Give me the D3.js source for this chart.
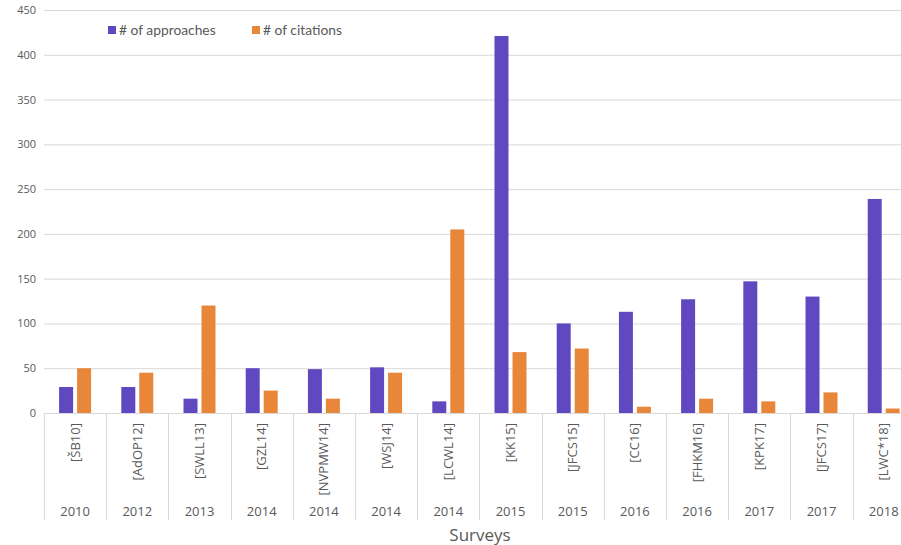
<!DOCTYPE html>
<html>
<head>
<meta charset="utf-8">
<script src="https://cdn.jsdelivr.net/npm/d3@7"></script>
<style>
    body { margin: 0; background: #ffffff; }
    svg { display: block; font-family: "Open Sans", "Noto Sans", sans-serif; }
</style>
</head>
<body>
<div id="chart"></div>
<script>
const surveys = ["[ŠB10]", "[AdOP12]", "[SWLL13]", "[GZL14]", "[NVPMW14]", "[WSJ14]", "[LCWL14]",
    "[KK15]", "[JFCS15]", "[CC16]", "[FHKM16]", "[KPK17]", "[JFCS17]", "[LWC*18]"];
const years = ["2010", "2012", "2013", "2014", "2014", "2014", "2014",
    "2015", "2015", "2016", "2016", "2017", "2017", "2018"];
const approaches = [29, 29, 16, 50, 49, 51, 13, 421, 100, 113, 127, 147, 130, 239];
const citations = [50, 45, 120, 25, 16, 45, 205, 68, 72, 7, 16, 13, 23, 5];
const seriesNames = ["# of approaches", "# of citations"];
const yTicks = [0, 50, 100, 150, 200, 250, 300, 350, 400, 450];

function renderChart() {
    const outerWidth = 901;
    const outerHeight = 545;
    const left = 44;
    const bandStep = 62.2;
    const plotTop = 10;
    const plotBottom = 413;
    const textColor = "#595959";
    const colors = ["#6048C0", "#E8873A"];

    const svg = d3.select("#chart")
        .append("svg")
        .attr("width", outerWidth)
        .attr("height", outerHeight);

    const x = d3.scaleBand()
        .domain(d3.range(surveys.length))
        .range([left, left + bandStep * surveys.length])
        .paddingInner(0)
        .paddingOuter(0);
    const inner = d3.scaleBand()
        .domain([0, 1])
        .range([0, x.bandwidth()])
        .paddingOuter(0.84)
        .paddingInner(0.222);
    const y = d3.scaleLinear()
        .domain([0, 450])
        .range([plotBottom, plotTop]);

    // horizontal gridlines
    svg.append("g")
        .selectAll("line")
        .data(yTicks.slice(1))
        .enter()
        .append("line")
        .attr("x1", left)
        .attr("x2", outerWidth)
        .attr("y1", (d) => y(d) + 0.5)
        .attr("y2", (d) => y(d) + 0.5)
        .attr("stroke", "#d9d9d9")
        .attr("stroke-width", 1);

    // y axis labels
    svg.append("g")
        .attr("transform", `translate(${left}, 0)`)
        .call(d3.axisLeft(y).tickValues(yTicks).tickSize(0).tickPadding(8))
        .call((g) => g.select(".domain").remove())
        .call((g) => g.selectAll("text")
            .attr("fill", textColor)
            .attr("font-size", 11)
            .attr("font-family", "Open Sans, sans-serif"));

    // bars
    const groups = svg.append("g")
        .selectAll("g")
        .data(surveys.map((name, i) => [approaches[i], citations[i]]))
        .enter()
        .append("g")
        .attr("transform", (d, i) => `translate(${x(i)}, 0)`);
    groups.selectAll("rect")
        .data((d) => d)
        .enter()
        .append("rect")
        .attr("x", (d, i) => inner(i))
        .attr("width", inner.bandwidth())
        .attr("y", (d) => y(d))
        .attr("height", (d) => y(0) - y(d))
        .attr("fill", (d, i) => colors[i]);

    // baseline and category separators
    svg.append("line")
        .attr("x1", left)
        .attr("x2", outerWidth)
        .attr("y1", plotBottom + 0.5)
        .attr("y2", plotBottom + 0.5)
        .attr("stroke", "#d9d9d9");
    svg.append("g")
        .selectAll("line")
        .data(d3.range(surveys.length + 1))
        .enter()
        .append("line")
        .attr("x1", (d) => Math.round(left + d * bandStep) + 0.5)
        .attr("x2", (d) => Math.round(left + d * bandStep) + 0.5)
        .attr("y1", plotBottom)
        .attr("y2", 520)
        .attr("stroke", "#d9d9d9");

    // survey labels (rotated)
    svg.append("g")
        .selectAll("text")
        .data(surveys)
        .enter()
        .append("text")
        .attr("transform", (d, i) => `translate(${x(i) + x.bandwidth() / 2 + 4.5}, 423) rotate(-90)`)
        .attr("text-anchor", "end")
        .attr("fill", textColor)
        .attr("font-size", 13)
        .attr("font-family", "Open Sans, sans-serif")
        .text((d) => d);

    // year labels
    svg.append("g")
        .selectAll("text")
        .data(years)
        .enter()
        .append("text")
        .attr("x", (d, i) => x(i) + x.bandwidth() / 2)
        .attr("y", 516)
        .attr("text-anchor", "middle")
        .attr("fill", textColor)
        .attr("font-size", 13)
        .attr("font-family", "Open Sans, sans-serif")
        .text((d) => d);

    // axis title
    svg.append("text")
        .attr("x", 480)
        .attr("y", 541)
        .attr("text-anchor", "middle")
        .attr("fill", textColor)
        .attr("font-size", 17)
        .attr("font-family", "Open Sans, sans-serif")
        .text("Surveys");

    // legend
    const legendX = [108, 252];
    const legend = svg.append("g");
    seriesNames.forEach((name, i) => {
        const item = legend.append("g")
            .attr("transform", `translate(${legendX[i]}, 26)`);
        item.append("rect")
            .attr("width", 8)
            .attr("height", 8)
            .attr("fill", colors[i]);
        item.append("text")
            .attr("x", 11)
            .attr("y", 9)
            .attr("fill", textColor)
            .attr("font-size", 13.8)
            .attr("font-family", "Lato, sans-serif")
            .text(name);
    });
}

renderChart();
</script>
</body>
</html>
